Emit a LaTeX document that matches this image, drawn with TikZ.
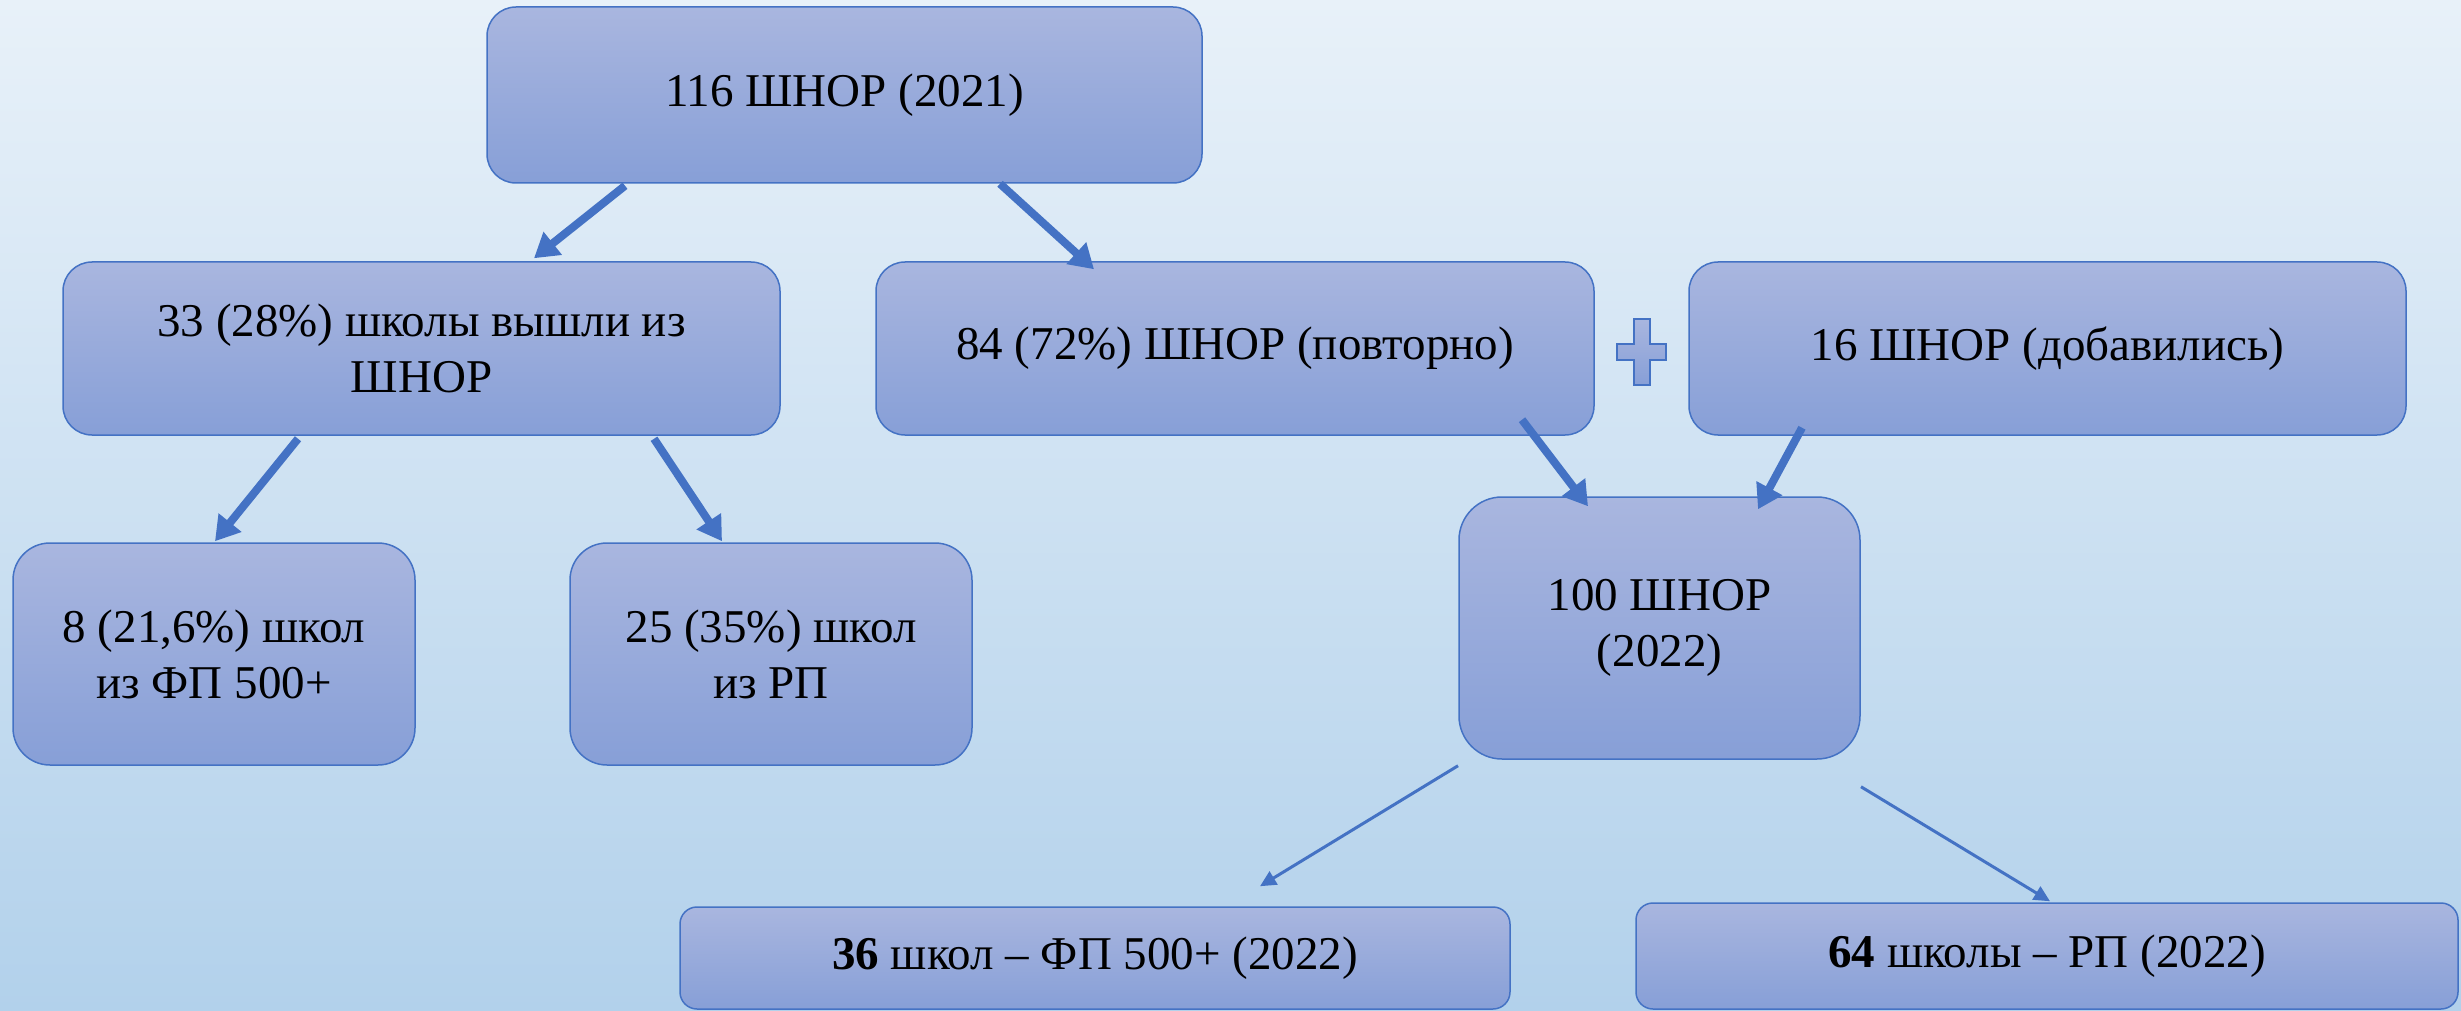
\documentclass[tikz,border=0pt]{standalone}
\usepackage{fontspec}
\setmainfont{Liberation Serif}
\usetikzlibrary{arrows.meta,calc}
\definecolor{bgtop}{RGB}{232,241,249}
\definecolor{bgbot}{RGB}{178,209,235}
\definecolor{boxtop}{RGB}{169,182,223}
\definecolor{boxbot}{RGB}{135,159,215}
\definecolor{edge}{RGB}{68,114,196}
\begin{document}
\begin{tikzpicture}[x=1pt,y=-1pt,
  box/.style={draw=edge, line width=1.5pt, top color=boxtop, bottom color=boxbot,
    align=center, font=\fontsize{47}{56}\selectfont, inner sep=0pt},
  thickarrow/.style={draw=edge, line width=8pt, -{Triangle[length=24pt,width=28pt]}},
  thinarrow/.style={draw=edge, line width=3pt, -{Triangle[length=16pt,width=15pt]}}]
\useasboundingbox (0,0) rectangle (2461,1011);
\clip (0,0) rectangle (2461,1011);
\shade[top color=bgtop, bottom color=bgbot] (0,0) rectangle (2461,1011);

\node[box, minimum width=715pt, minimum height=176pt, rounded corners=29pt] (n116) at (844.5,95) {116 ШНОР (2021)};
\node[box, minimum width=717pt, minimum height=173pt, rounded corners=29pt] (b33) at (421.5,348.5) {33 (28\%) школы вышли из\\ШНОР};
\node[box, minimum width=718pt, minimum height=173pt, rounded corners=29pt] (b84) at (1235,348.5) {84 (72\%) ШНОР (повторно)};
\node[box, minimum width=717pt, minimum height=173pt, rounded corners=29pt] (b16) at (2047.5,348.5) {16 ШНОР (добавились)};
\node[box, minimum width=402pt, minimum height=222pt, rounded corners=37pt] (b8) at (214,654) {8 (21,6\%) школ\\из ФП 500+};
\node[box, minimum width=402pt, minimum height=222pt, rounded corners=37pt] (b25) at (771,654) {25 (35\%) школ\\из РП};
\node[box, minimum width=401pt, minimum height=262pt, rounded corners=43pt] (b100) at (1659.5,628) {100 ШНОР\\(2022)};
\node[box, minimum width=830pt, minimum height=102pt, rounded corners=17pt] (b36) at (1095,958) {\textbf{36} школ – ФП 500+ (2022)};
\node[box, minimum width=822pt, minimum height=106pt, rounded corners=17pt] (b64) at (2047,956) {\textbf{64} школы – РП (2022)};

\path[draw=edge, line width=1.5pt, top color=boxtop, bottom color=boxbot]
  (1634,319) -- (1650,319) -- (1650,344) -- (1666,344) -- (1666,360) -- (1650,360)
  -- (1650,385) -- (1634,385) -- (1634,360) -- (1617,360) -- (1617,344) -- (1634,344) -- cycle;

\draw[thickarrow] ([xshift=-219.5pt,yshift=-2pt]n116.south) -- ([xshift=112.5pt,yshift=3pt]b33.north);
\draw[thickarrow] ([xshift=155.5pt]n116.south) -- ([xshift=-141pt,yshift=-8pt]b84.north);
\draw[thickarrow] ([xshift=-123.5pt,yshift=-3pt]b33.south) -- ([xshift=1pt,yshift=1pt]b8.north);
\draw[thickarrow] ([xshift=232.5pt,yshift=-3pt]b33.south) -- ([xshift=-49pt,yshift=1pt]b25.north);
\draw[thickarrow] ([xshift=287pt,yshift=16pt]b84.south) -- ([xshift=-71.5pt,yshift=-10pt]b100.north);
\draw[thickarrow] ([xshift=-245.5pt,yshift=8pt]b16.south) -- ([xshift=98.5pt,yshift=-13pt]b100.north);
\draw[thinarrow] ([xshift=-201.5pt,yshift=-6pt]b100.south) -- ([xshift=165pt,yshift=20pt]b36.north);
\draw[thinarrow] ([xshift=201.5pt,yshift=-27pt]b100.south) -- ([xshift=3pt,yshift=1pt]b64.north);
\end{tikzpicture}
\end{document}
